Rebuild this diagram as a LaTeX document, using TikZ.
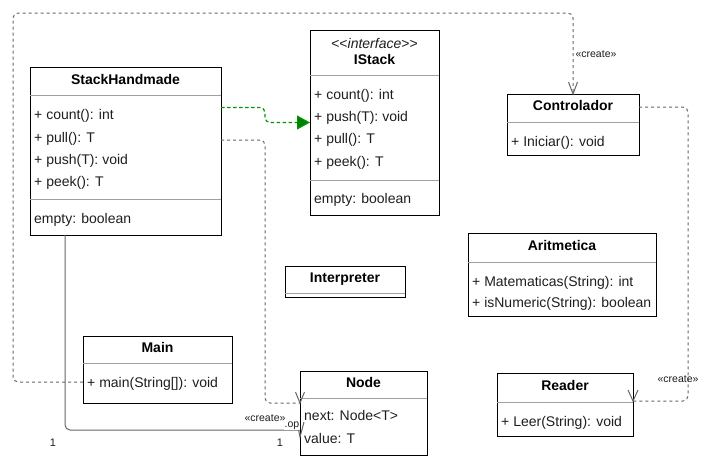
\documentclass[tikz,border=0pt]{standalone}
\usepackage{fontspec}
\newfontfamily\uifont{Liberation Sans}
\usetikzlibrary{arrows.meta}
\definecolor{conn}{RGB}{102,102,102}
\definecolor{sepc}{RGB}{160,160,160}
\definecolor{gr}{RGB}{0,150,0}
\definecolor{grfill}{RGB}{0,128,0}
\definecolor{txt}{RGB}{30,30,30}
\begin{document}
\begin{tikzpicture}[x=1pt,y=-1pt,
  font=\uifont\fontsize{14}{16}\selectfont,
  cls/.style={draw=black,line width=1pt,anchor=north west,inner sep=0pt,outer sep=0pt,rectangle},
  sepline/.style={draw=sepc,line width=1pt},
  title/.style={anchor=base,inner sep=0pt,font=\uifont\fontsize{14}{16}\selectfont\bfseries},
  member/.style={anchor=base west,inner sep=0pt,text=txt},
  conline/.style={draw=conn,line width=1pt,rounded corners=5pt},
  dashline/.style={conline,dash pattern=on 3pt off 3pt},
  greenline/.style={draw=gr,line width=1.2pt,rounded corners=5pt,dash pattern=on 3.5pt off 2.5pt},
  vmark/.style={draw=conn,line width=1pt},
  lbl/.style={inner sep=0pt,anchor=base,font=\uifont\fontsize{10.5}{12}\selectfont,text=txt},
  mult/.style={inner sep=0pt,anchor=base,font=\uifont\fontsize{11}{13}\selectfont,text=txt}]
\useasboundingbox (0,0) rectangle (704,456);

% StackHandmade
\node[cls,minimum width=191pt,minimum height=168pt] (stack) at (30,67) {};
\draw[sepline] (30,95.5) -- (221,95.5);
\draw[sepline] (30,199.5) -- (221,199.5);
\node[title] (stackT) at (125.5,84) {StackHandmade};
\node[member] (s1) at (34,119) {+ count(): int};
\node[member] (s2) at (34,142) {+ pull(): T};
\node[member] (s3) at (34,164) {+ push(T): void};
\node[member] (s4) at (34,186) {+ peek(): T};
\node[member] (s5) at (34,223) {empty: boolean};

% IStack
\node[cls,minimum width=129pt,minimum height=185pt] (istack) at (310,30) {};
\draw[sepline] (310,75.5) -- (439,75.5);
\draw[sepline] (310,180) -- (439,180);
\node[anchor=base,inner sep=0pt,text=txt] (istS) at (374.5,48) {<{}<\textit{interface}>{}>};
\node[title] (istT) at (374.5,64) {IStack};
\node[member] (i1) at (314,99) {+ count(): int};
\node[member] (i2) at (314,121) {+ push(T): void};
\node[member] (i3) at (314,143) {+ pull(): T};
\node[member] (i4) at (314,166) {+ peek(): T};
\node[member] (i5) at (314,203) {empty: boolean};

% Controlador
\node[cls,minimum width=132pt,minimum height=61pt] (ctrl) at (507,94) {};
\draw[sepline] (507,122) -- (639,122);
\node[title] (ctrlT) at (573,110) {Controlador};
\node[member] (c1) at (511,146) {+ Iniciar(): void};

% Aritmetica
\node[cls,minimum width=188pt,minimum height=83pt] (arit) at (468,233) {};
\draw[sepline] (468,262) -- (656,262);
\node[title] (aritT) at (562,250) {Aritmetica};
\node[member] (a1) at (472,286) {+ Matematicas(String): int};
\node[member] (a2) at (472,307) {+ isNumeric(String): boolean};

% Interpreter
\node[cls,minimum width=120pt,minimum height=31pt] (interp) at (285,266) {};
\draw[sepline] (285,293) -- (405,293);
\node[title] (interpT) at (345,282) {Interpreter};

% Main
\node[cls,minimum width=149pt,minimum height=67pt] (main) at (83,336) {};
\draw[sepline] (83,363) -- (232,363);
\node[title] (mainT) at (157.5,352) {Main};
\node[member] (m1) at (87,387) {+ main(String[]): void};

% Node
\node[cls,minimum width=127pt,minimum height=84pt] (nodeC) at (300,371) {};
\draw[sepline] (300,398) -- (427,398);
\node[title] (nodeT) at (363.5,387) {Node};
\node[member] (n1) at (304,420) {next: Node<T>};
\node[member] (n2) at (304,443) {value: T};

% Reader
\node[cls,minimum width=136pt,minimum height=63pt] (reader) at (497,373) {};
\draw[sepline] (497,402) -- (633,402);
\node[title] (readerT) at (565,390) {Reader};
\node[member] (r1) at (501,426) {+ Leer(String): void};

% connectors
\draw[greenline,-{Triangle[length=13pt,width=14pt,fill=grfill]}]
  (stack.east |- 0,107.5) -- (265,107.5) -- (265,122.5) -- (istack.west);

\draw[dashline] (stack.east |- 0,140) -- (265,140) -- (265,403) -- (nodeC.west |- 0,403);
\draw[vmark] ([shift={(-4.5,-11)}]nodeC.west |- 0,403) -- (nodeC.west |- 0,403) -- ([shift={(4.5,-11)}]nodeC.west |- 0,403);

\draw[dashline] (main.west |- 0,382) -- (13,382) -- (13,13) -- (573,13) -- (ctrl.north);
\draw[vmark] ([shift={(-4.5,-12)}]ctrl.north) -- (ctrl.north) -- ([shift={(4.5,-12)}]ctrl.north);
\node[lbl] (lc1) at (596,57) {«create»};

\draw[dashline] (ctrl.east |- 0,107) -- (688,107) -- (688,401) -- (reader.east |- 0,401);
\draw[vmark] ([shift={(-5,-11)}]reader.east |- 0,401) -- (reader.east |- 0,401) -- ([shift={(5,-11)}]reader.east |- 0,401);
\node[lbl] (lc2) at (678,382) {«create»};

\draw[conline] (stack.south -| 65,0) -- (65,430) -- (nodeC.west |- 0,430);
\draw[vmark] ([shift={(-3,-15)}]nodeC.west |- 0,437) -- (nodeC.west |- 0,437) -- ([shift={(4,-15)}]nodeC.west |- 0,437);
\node[lbl] (lc3) at (265,421) {«create»};
\node[lbl,fill=white,inner sep=0.5pt] (lop) at (292,427) {.op};
\node[mult] (m1a) at (53,446) {1};
\node[mult] (m1b) at (280,446) {1};
\end{tikzpicture}
\end{document}
